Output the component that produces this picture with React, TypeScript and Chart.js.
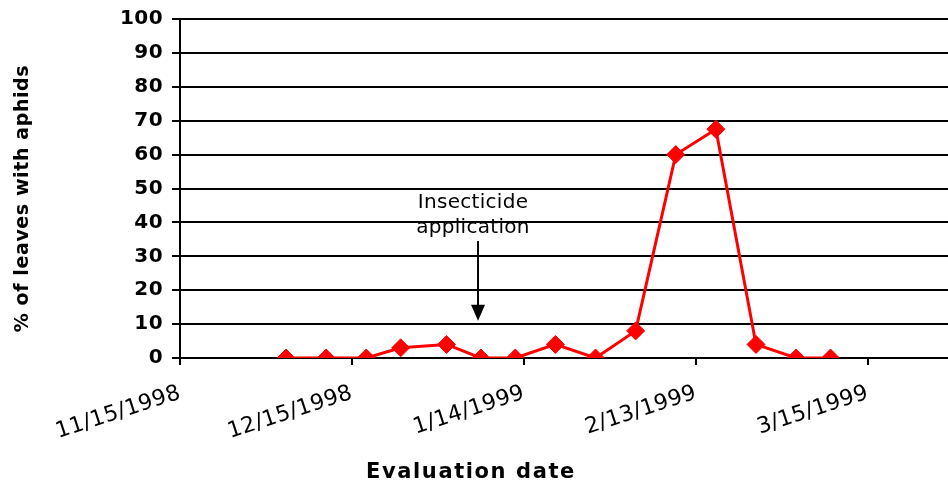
import React, { useEffect, useRef } from 'react';
import { Chart, registerables } from 'chart.js';

Chart.register(...registerables);

// ---- data ----
const startDate = '1998-11-15';
const axisEndDate = '1999-03-29';
const evaluationDates = [
  '1998-12-03', '1998-12-10', '1998-12-17', '1998-12-23', '1998-12-31',
  '1999-01-06', '1999-01-12', '1999-01-19', '1999-01-26', '1999-02-02',
  '1999-02-09', '1999-02-16', '1999-02-23', '1999-03-02', '1999-03-08',
];
const leavesWithAphids = [0, 0, 0, 3, 4, 0, 0, 4, 0, 8, 60, 67.5, 4, 0, 0];
const tickDates = ['1998-11-15', '1998-12-15', '1999-01-14', '1999-02-13', '1999-03-15'];
const tickLabels = ['11/15/1998', '12/15/1998', '1/14/1999', '2/13/1999', '3/15/1999'];
const yTickValues = [0, 10, 20, 30, 40, 50, 60, 70, 80, 90, 100];
const applicationDate = '1999-01-06';
const annotationLines = ['Insecticide', 'application'];
const arrowFrom = 34.5;
const arrowTo = 11;
const xTitle = 'Evaluation date';
const yTitle = '% of leaves with aphids';

// points sit in the middle of their day slot (date axis, "between dates")
const dayCenter = 0.5;
const dayOf = (s: string) => (Date.parse(s) - Date.parse(startDate)) / 86400000;

const labelSpacing: Record<string, string> = { x: '0.3px', y: '0.4px' };

const extrasPlugin = {
  id: 'extras',
  beforeDraw(chart: any) {
    Object.keys(labelSpacing).forEach((id) => {
      const s = chart.scales[id];
      if (s && !s._lsPatched) {
        const orig = s.drawLabels;
        s.drawLabels = function (area: any) {
          const c = this.ctx;
          const prev = c.letterSpacing;
          c.letterSpacing = labelSpacing[id];
          orig.call(this, area);
          c.letterSpacing = prev;
        };
        s._lsPatched = true;
      }
    });
  },
  afterDraw(chart: any) {
    const { ctx, scales, chartArea } = chart;
    const x = scales.x;
    const y = scales.y;
    ctx.save();
    // arrow
    const ax = x.getPixelForValue(dayOf(applicationDate));
    const top = y.getPixelForValue(arrowFrom);
    const tip = y.getPixelForValue(arrowTo);
    ctx.strokeStyle = '#000';
    ctx.fillStyle = '#000';
    ctx.lineWidth = 2;
    ctx.beginPath();
    ctx.moveTo(ax, top);
    ctx.lineTo(ax, tip - 12);
    ctx.stroke();
    ctx.beginPath();
    ctx.moveTo(ax - 7, tip - 16);
    ctx.lineTo(ax + 7, tip - 16);
    ctx.lineTo(ax, tip);
    ctx.closePath();
    ctx.fill();
    // annotation text
    ctx.font = '20px "DejaVu Sans"';
    ctx.letterSpacing = '0.3px';
    ctx.textAlign = 'center';
    ctx.textBaseline = 'alphabetic';
    ctx.fillText(annotationLines[0], ax - 5, top - 33);
    ctx.fillText(annotationLines[1], ax - 5, top - 8);
    // x title
    ctx.font = 'bold 21px "DejaVu Sans"';
    ctx.letterSpacing = '1.6px';
    ctx.fillText(xTitle, 471, 478);
    // y title
    ctx.translate(23, (chartArea.top + chartArea.bottom) / 2 + 10);
    ctx.rotate(-Math.PI / 2);
    ctx.font = 'bold 19px "DejaVu Sans"';
    ctx.letterSpacing = '0.6px';
    ctx.textBaseline = 'middle';
    ctx.fillText(yTitle, 0, 0);
    ctx.restore();
  },
};

export default function App() {
  const ref = useRef<HTMLCanvasElement>(null);
  useEffect(() => {
    if (!ref.current) return;
    const points = evaluationDates.map((d, i) => ({ x: dayOf(d) + dayCenter, y: leavesWithAphids[i] }));
    const chart = new Chart(ref.current, {
      type: 'line',
      data: {
        datasets: [
          {
            data: points,
            borderColor: '#ff0000',
            backgroundColor: '#ff0000',
            borderWidth: 3,
            pointStyle: 'rectRot',
            pointRadius: 9,
            pointBorderWidth: 1,
            tension: 0,
          },
        ],
      },
      options: {
        animation: false,
        responsive: false,
        layout: { autoPadding: false, padding: { left: 0, right: 0, top: 19, bottom: 0 } },
        plugins: { legend: { display: false }, tooltip: { enabled: false } },
        scales: {
          x: {
            type: 'linear',
            min: 0,
            max: dayOf(axisEndDate),
            afterBuildTicks: (s: any) => {
              s.ticks = tickDates.map((d) => ({ value: dayOf(d) }));
            },
            afterFit: (s: any) => {
              s.height = 130;
              s.paddingRight = 0;
              s.paddingLeft = 0;
            },
            ticks: {
              autoSkip: false,
              minRotation: 18,
              maxRotation: 18,
              color: '#000',
              padding: 15,
              font: { family: 'DejaVu Sans', size: 22 },
              callback: (v: any) => {
                const i = tickDates.findIndex((d) => dayOf(d) === v);
                return i >= 0 ? tickLabels[i] : '';
              },
            },
            grid: { drawOnChartArea: false, drawTicks: true, tickLength: 7, color: '#000', lineWidth: 2 },
            border: { display: true, color: '#000', width: 2 },
          },
          y: {
            min: 0,
            max: 100,
            afterBuildTicks: (s: any) => {
              s.ticks = yTickValues.map((v) => ({ value: v }));
            },
            afterFit: (s: any) => {
              s.width = 180;
              s.paddingTop = 0;
              s.paddingBottom = 0;
            },
            ticks: {
              color: '#000',
              padding: 9,
              font: { family: 'DejaVu Sans', size: 20, weight: 'bold' },
            },
            grid: { color: '#000', lineWidth: 2, tickLength: 8 },
            border: { display: true, color: '#000', width: 2 },
          },
        },
      },
      plugins: [extrasPlugin],
    } as any);
    return () => chart.destroy();
  }, []);
  return (
    <div style={{ position: 'absolute', left: 0, top: 0, width: 948, height: 488, background: '#fff' }}>
      <canvas ref={ref} width={948} height={488} style={{ display: 'block' }} />
    </div>
  );
}
